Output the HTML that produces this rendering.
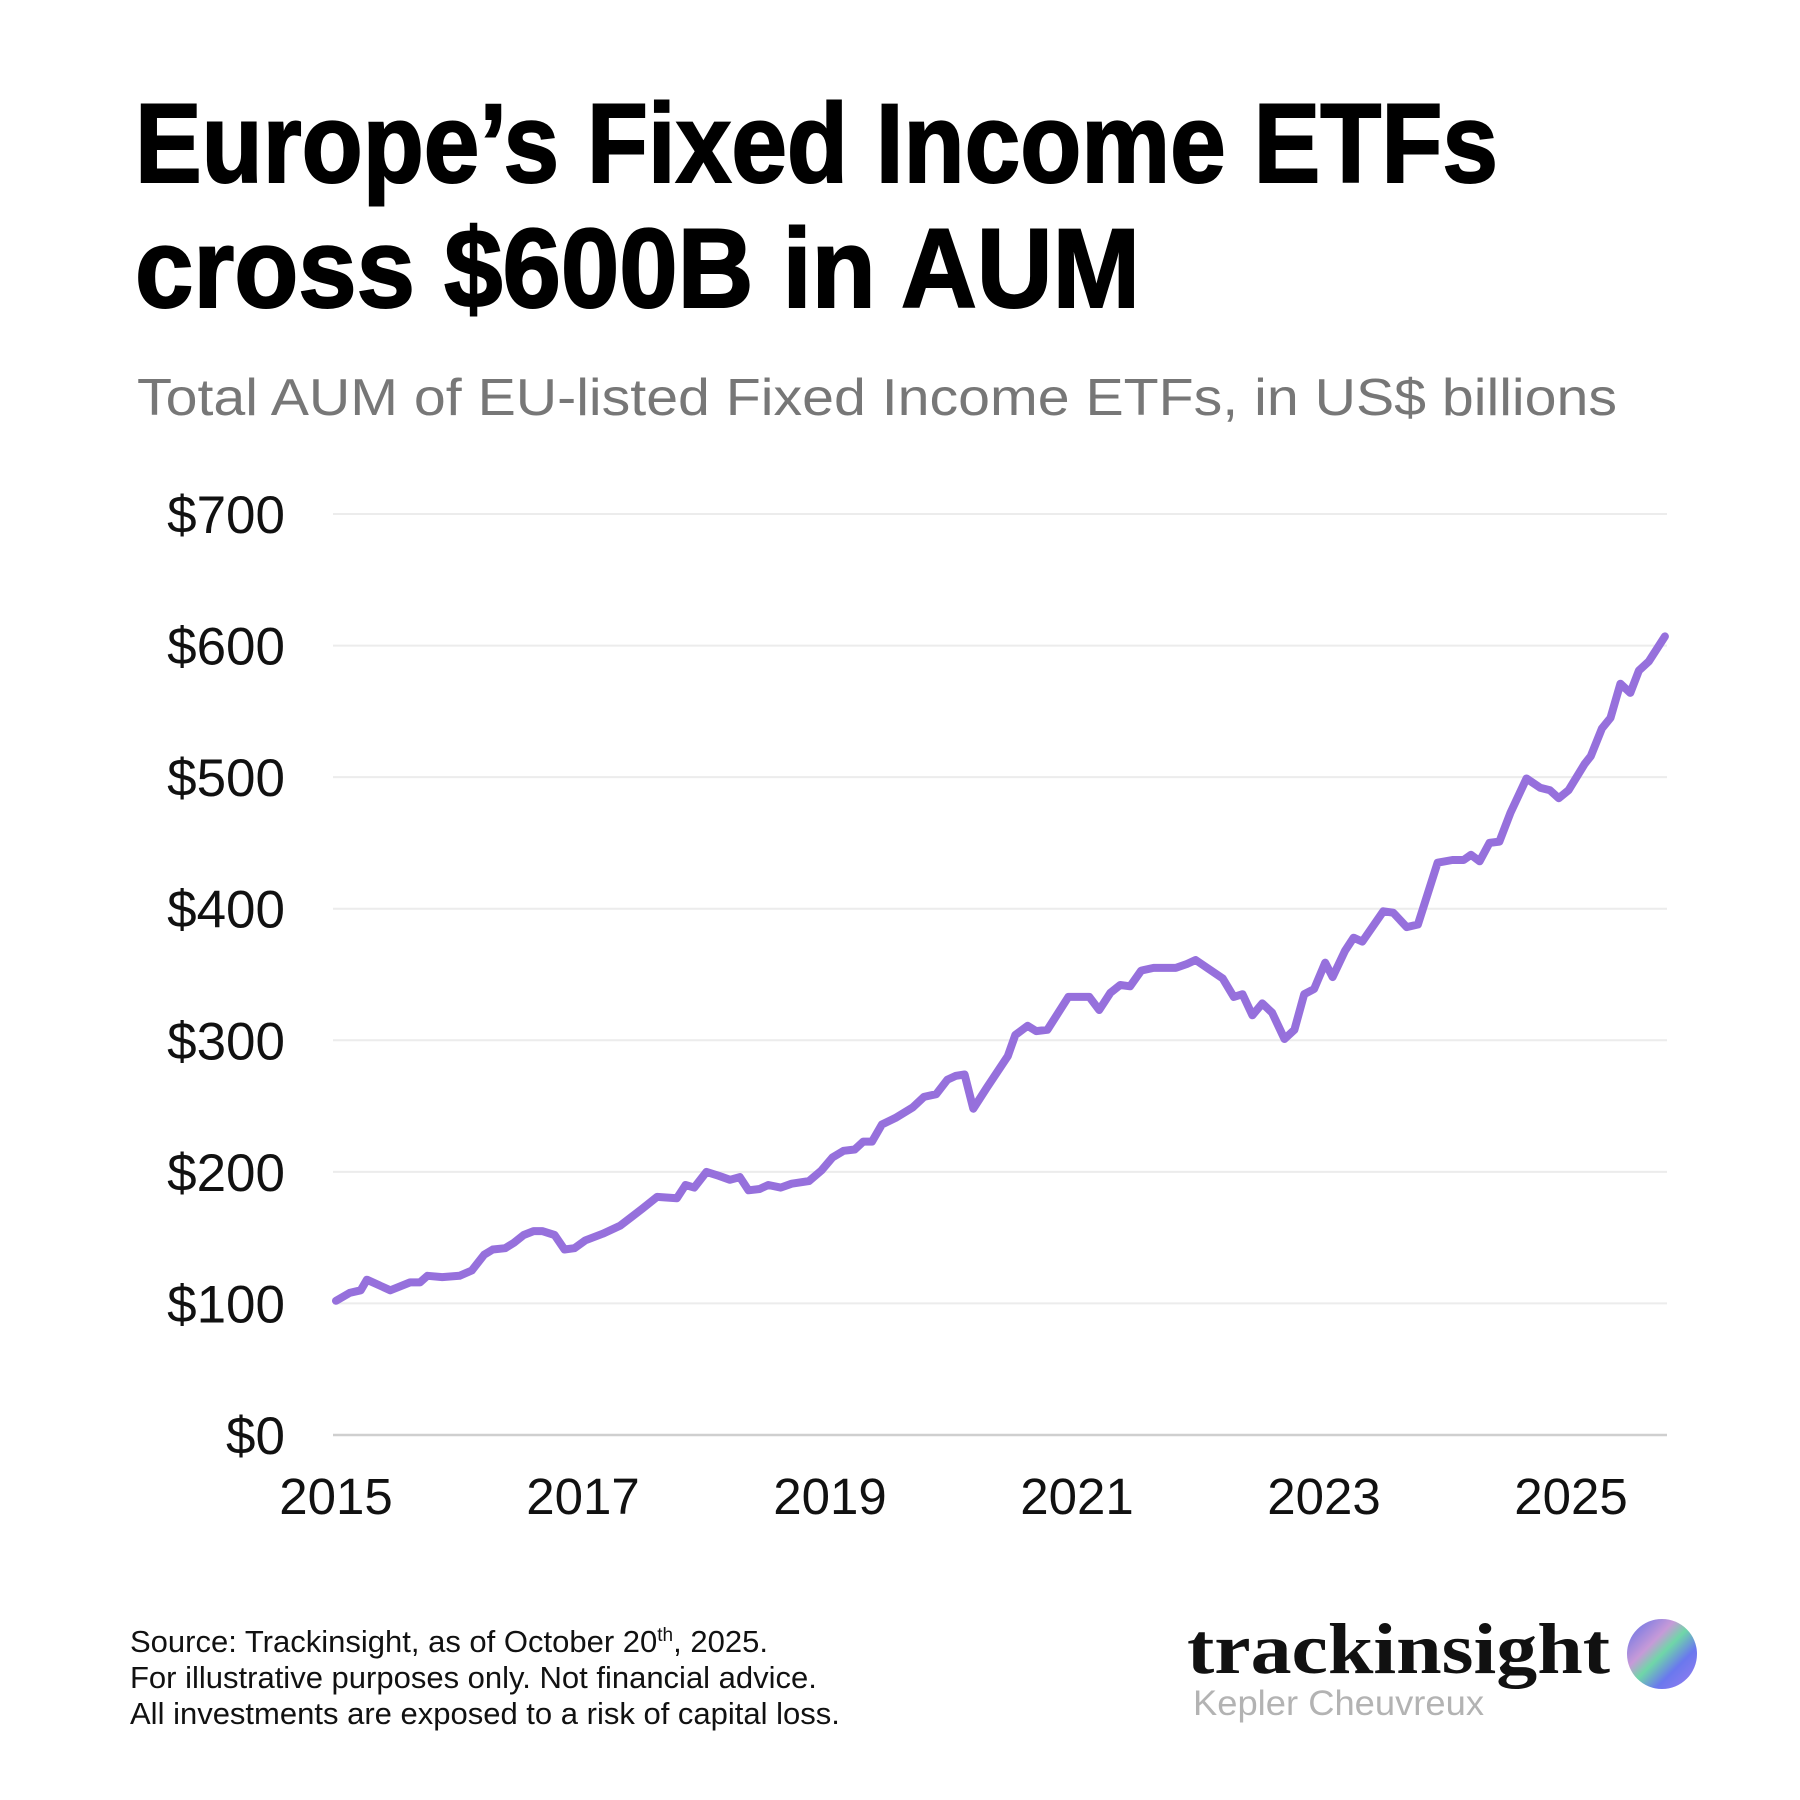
<!DOCTYPE html>
<html><head><meta charset="utf-8"><style>
html,body{margin:0;padding:0;background:#fff;}
svg{display:block;}
</style></head><body>
<svg id="chart" width="1800" height="1800" viewBox="0 0 1800 1800" xmlns="http://www.w3.org/2000/svg">
<defs>
<linearGradient id="lg" x1="0" y1="0" x2="1" y2="1">
<stop offset="0" stop-color="#5b6ee8"/><stop offset="0.35" stop-color="#c79ad8"/><stop offset="0.5" stop-color="#6fd7a8"/><stop offset="0.7" stop-color="#6a78ee"/><stop offset="1" stop-color="#9b7ef0"/>
</linearGradient>
</defs>
<rect width="1800" height="1800" fill="#fff"/>
<text x="135" y="182" font-family="Liberation Sans, sans-serif" font-weight="bold" font-size="112" textLength="1363" lengthAdjust="spacingAndGlyphs" fill="#000" stroke="#000" stroke-width="2">Europe’s Fixed Income ETFs</text>
<text x="135" y="307" font-family="Liberation Sans, sans-serif" font-weight="bold" font-size="112" textLength="1005" lengthAdjust="spacingAndGlyphs" fill="#000" stroke="#000" stroke-width="2">cross $600B in AUM</text>
<text x="137" y="415" font-family="Liberation Sans, sans-serif" font-size="52" textLength="1480" lengthAdjust="spacingAndGlyphs" fill="#777">Total AUM of EU-listed Fixed Income ETFs, in US$ billions</text>
<g id="grid"></g>
<g id="yaxis"></g>
<g id="xaxis"></g>
<g id="series"></g>
<text x="130" y="1652" font-family="Liberation Sans, sans-serif" font-size="31" fill="#111">Source: Trackinsight, as of October 20<tspan font-size="19" dy="-11">th</tspan><tspan dy="11">, 2025.</tspan></text>
<text x="130" y="1688" font-family="Liberation Sans, sans-serif" font-size="31" fill="#111">For illustrative purposes only. Not financial advice.</text>
<text x="130" y="1724" font-family="Liberation Sans, sans-serif" font-size="31" fill="#111">All investments are exposed to a risk of capital loss.</text>
<text x="1187" y="1673" font-family="Liberation Serif, serif" font-weight="bold" font-size="72" textLength="423" lengthAdjust="spacingAndGlyphs" fill="#111">trackinsight</text>
<text x="1193" y="1715" font-family="Liberation Sans, sans-serif" font-size="35" textLength="291" lengthAdjust="spacingAndGlyphs" fill="#b3b3b3">Kepler Cheuvreux</text>
<circle cx="1662" cy="1654" r="35" fill="url(#lg)"/>
</svg>
<script>
const years = [2015.0,2015.11,2015.2,2015.25,2015.44,2015.6,2015.68,2015.74,2015.86,2016.0,2016.1,2016.2,2016.27,2016.37,2016.44,2016.52,2016.6,2016.67,2016.77,2016.85,2016.93,2017.02,2017.16,2017.3,2017.48,2017.6,2017.76,2017.83,2017.9,2018.0,2018.1,2018.19,2018.27,2018.34,2018.43,2018.5,2018.6,2018.69,2018.83,2018.93,2019.02,2019.11,2019.2,2019.27,2019.34,2019.42,2019.53,2019.67,2019.76,2019.86,2019.95,2020.02,2020.09,2020.16,2020.27,2020.44,2020.5,2020.6,2020.67,2020.76,2020.93,2021.06,2021.1,2021.18,2021.27,2021.35,2021.43,2021.52,2021.62,2021.8,2021.89,2021.96,2022.18,2022.27,2022.34,2022.42,2022.5,2022.58,2022.68,2022.76,2022.84,2022.92,2023.01,2023.07,2023.17,2023.24,2023.31,2023.48,2023.56,2023.67,2023.76,2023.92,2024.04,2024.13,2024.19,2024.26,2024.34,2024.42,2024.51,2024.64,2024.75,2024.83,2024.9,2024.98,2025.11,2025.16,2025.25,2025.32,2025.4,2025.48,2025.55,2025.63,2025.76];
const aum = [102,108,110,118,110,116,116,121,120,121,125,137,141,142,146,152,155,155,152,141,142,148,153,159,172,181,180,190,188,200,197,194,196,186,187,190,188,191,193,201,211,216,217,223,223,236,241,249,257,259,270,273,274,248,264,288,304,311,307,308,333,333,333,323,336,342,341,353,355,355,358,361,347,333,335,319,328,321,301,308,335,339,359,348,368,378,375,398,397,386,388,435,437,437,441,436,450,451,473,499,492,490,484,490,510,516,537,545,571,564,581,588,607];
const yTicks = [0,100,200,300,400,500,600,700];
const yTickLabels = ["$0","$100","$200","$300","$400","$500","$600","$700"];
const xTicks = [2015,2017,2019,2021,2023,2025];
const xTickLabels = ["2015","2017","2019","2021","2023","2025"];

const NS = "http://www.w3.org/2000/svg";
const X0 = 336, X1 = 1571, Y0 = 1435, Y1 = 514;
function xScale(v){ return X0 + (v - 2015) / 10 * (X1 - X0); }
function yScale(v){ return Y0 - v / 700 * (Y0 - Y1); }
function mk(tag, attrs){ const e = document.createElementNS(NS, tag); for (const k in attrs) e.setAttribute(k, attrs[k]); return e; }

const grid = document.getElementById('grid'), yax = document.getElementById('yaxis'), xax = document.getElementById('xaxis'), ser = document.getElementById('series');
yTicks.forEach((t, i) => {
  const y = yScale(t);
  const ln = mk('line', {x1: 333, x2: 1667, y1: y, y2: y, stroke: t === 0 ? '#cfcfcf' : '#ececec', 'stroke-width': t === 0 ? 2.5 : 2});
  
  
  grid.appendChild(ln);
  const tx = mk('text', {x: 285, y: y + 19, 'text-anchor': 'end', 'font-family': 'Liberation Sans, sans-serif', 'font-size': 53, fill: '#111'});
  tx.textContent = yTickLabels[i];
  
  
  yax.appendChild(tx);
});
xTicks.forEach((t, i) => {
  const tx = mk('text', {x: xScale(t), y: 1514, 'text-anchor': 'middle', 'font-family': 'Liberation Sans, sans-serif', 'font-size': 51, fill: '#111'});
  tx.textContent = xTickLabels[i];
  
  
  xax.appendChild(tx);
});
const d = years.map((yr, i) => (i ? 'L' : 'M') + xScale(yr).toFixed(1) + ',' + yScale(aum[i]).toFixed(1)).join(' ');
const path = mk('path', {d: d, fill: 'none', stroke: '#9670dc', 'stroke-width': 8, 'stroke-linejoin': 'round', 'stroke-linecap': 'round'});


ser.appendChild(path);
</script>
</body></html>
